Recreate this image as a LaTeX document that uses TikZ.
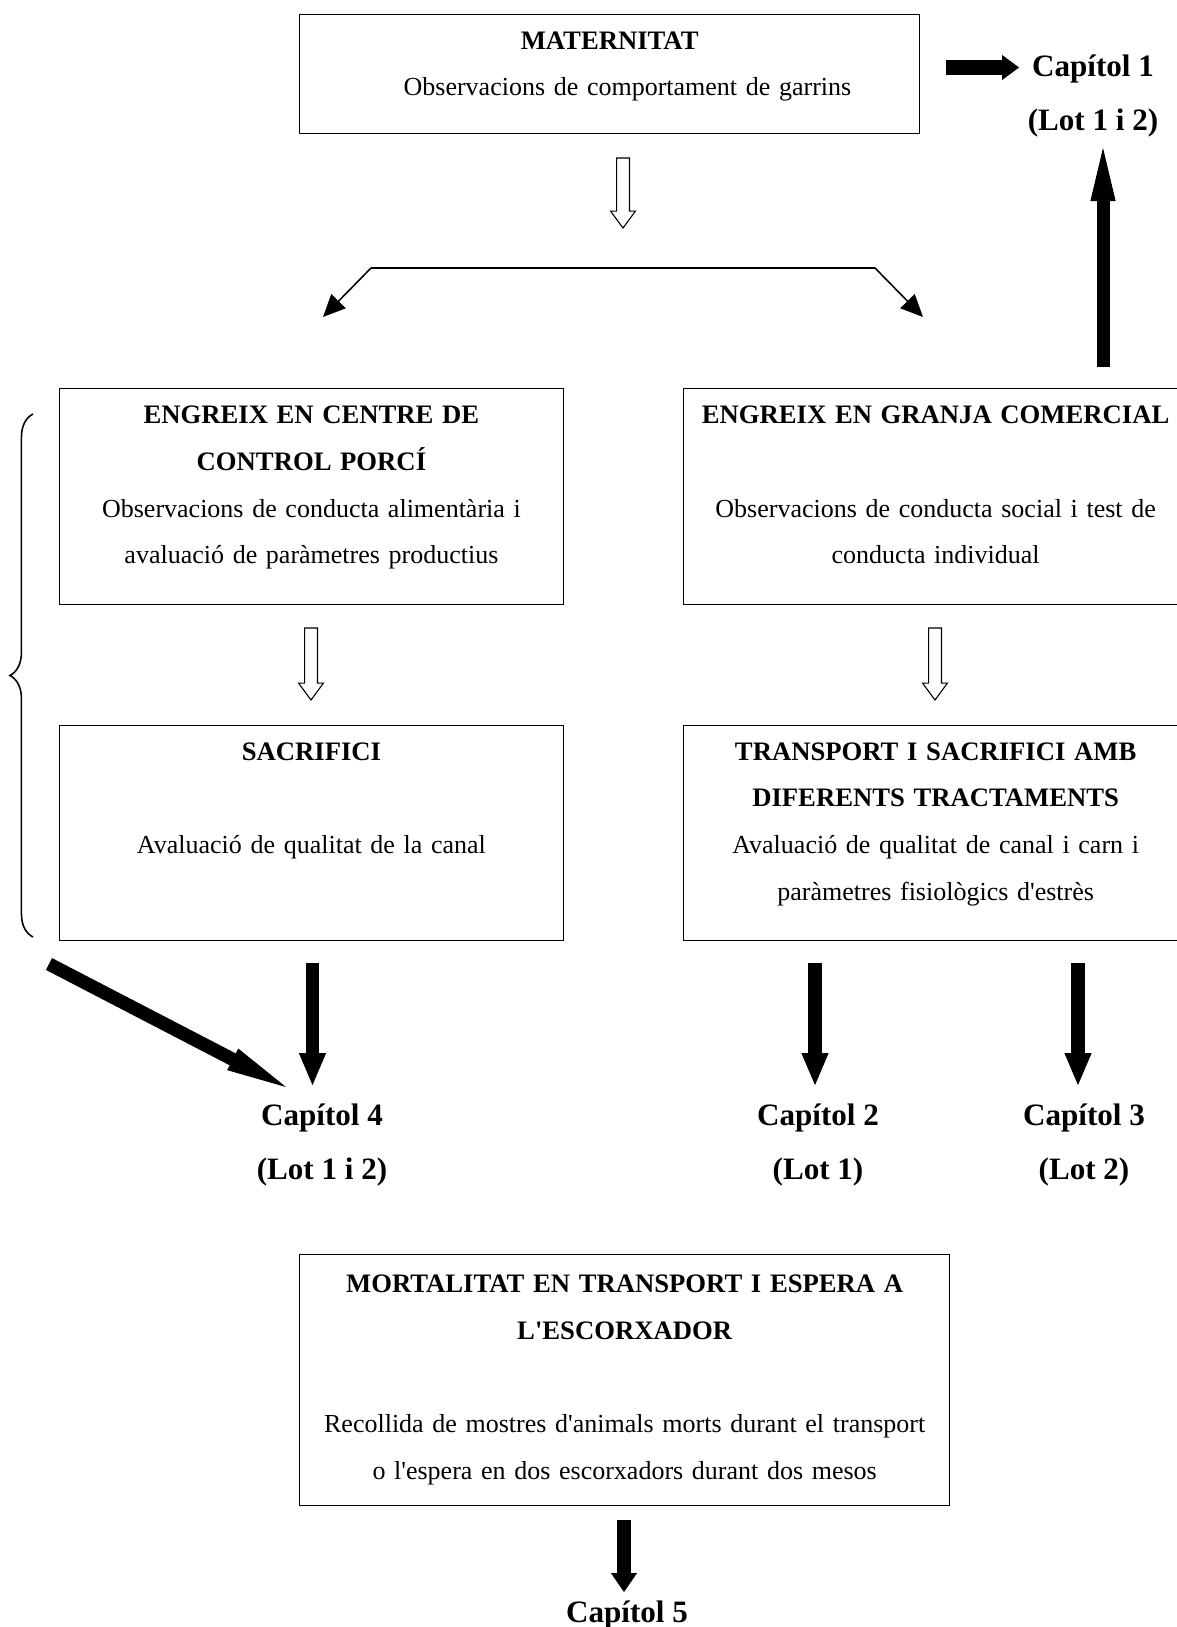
\documentclass[tikz,border=0pt]{standalone}
\usepackage{fontspec}
\setmainfont{Liberation Serif}
\usetikzlibrary{arrows.meta, calc, decorations.pathreplacing}

\newcommand{\ap}{\textquotesingle}
\newcommand{\hd}[1]{{\fontsize{12}{21}\selectfont\bfseries #1}}

\tikzset{
  box/.style={draw, line width=0.6pt, inner sep=0pt, anchor=north west, align=center,
    font=\fontsize{11.7}{21}\selectfont},
  chapter/.style={align=center, font=\fontsize{14}{24.3}\selectfont\bfseries},
  bigarrow/.style={line width=6.1pt, -{Triangle[length=14.4pt, width=12.2pt, line width=0.4pt]}},
  branch/.style={line width=0.7pt, -{Triangle[length=10pt, width=9pt]}},
  hollow/.style={draw, fill=white, line width=0.5pt,
    to path={let \p1=(\tikztostart), \p2=(\tikztotarget) in
      (\x1-2.9pt,\y1) -- (\x1+2.9pt,\y1) -- (\x1+2.9pt,\y2+7.6pt) -- (\x1+5.6pt,\y2+7.6pt)
      -- (\x1,\y2) -- (\x1-5.6pt,\y2+7.6pt) -- (\x1-2.9pt,\y2+7.6pt) -- cycle}}
}

\begin{document}
\begin{tikzpicture}[x=0.45pt, y=-0.45pt]
\useasboundingbox (0,0) rectangle (1176,1627);

% Boxes
\node[box, text width=279pt, text height=15.7pt, text depth=38.1pt] (mat) at (299,13.5)
  {\hd{MATERNITAT}\\\hspace*{16pt}Observacions de comportament de garrins};
\node[box, text width=226.6pt, text height=15.75pt, text depth=81.45pt] (ccp) at (59,388)
  {\hd{ENGREIX EN CENTRE DE\\CONTROL PORCÍ}\\Observacions de conducta alimentària i\\avaluació de paràmetres productius};
\node[box, text width=226.8pt, text height=15.75pt, text depth=81.45pt] (gc) at (683,388)
  {\hd{ENGREIX EN GRANJA COMERCIAL}\\[21pt]Observacions de conducta social i test de\\conducta individual};
\node[box, text width=226.6pt, text height=15.75pt, text depth=81.2pt] (sac) at (59,724.5)
  {\hd{SACRIFICI}\\[21pt]Avaluació de qualitat de la canal};
\node[box, text width=226.8pt, text height=15.75pt, text depth=81.2pt] (tsd) at (683,724.5)
  {\hd{TRANSPORT I SACRIFICI AMB\\DIFERENTS TRACTAMENTS}\\Avaluació de qualitat de canal i carn i\\paràmetres fisiològics d\ap estrès};
\node[box, text width=292.5pt, text height=17.1pt, text depth=95.85pt] (mort) at (299,1254)
  {\hd{MORTALITAT EN TRANSPORT I ESPERA A\\L\ap ESCORXADOR}\\[21pt]Recollida de mostres d\ap animals morts durant el transport\\o l\ap espera en dos escorxadors durant dos mesos};

% Chapters
\node[chapter] (cap1) at (1093,96) {Capítol 1\\(Lot 1 i 2)};
\node[chapter] (cap4) at (322,1145) {Capítol 4\\(Lot 1 i 2)};
\node[chapter] (cap2) at (818,1145) {Capítol 2\\(Lot 1)};
\node[chapter] (cap3) at (1084,1145) {Capítol 3\\(Lot 2)};
\node[chapter] (cap5) at (627,1615) {Capítol 5};

% Hollow arrows
\coordinate (h1a) at (623,158);  \coordinate (h1b) at (623,228);
\coordinate (h2a) at (311,628);  \coordinate (h2b) at (311,700);
\coordinate (h3a) at (935,628);  \coordinate (h3b) at (935,700);
\draw[hollow] (h1a) to (h1b);
\draw[hollow] (h2a) to (h2b);
\draw[hollow] (h3a) to (h3b);

% Fork
\coordinate (brl) at (371,268);
\coordinate (brr) at (875,268);
\coordinate (tol) at (323,317);
\coordinate (tor) at (923,317);
\draw[branch] (brl) -- (brr) -- (tor);
\draw[branch] (brl) -- (tol);

% Brace
\coordinate (bra) at (33,937);
\coordinate (brb) at (33,414);
\draw[line width=0.7pt, decorate, decoration={brace, amplitude=10.4pt}] (bra) -- (brb);

% Thick arrows
\coordinate (r1a) at (946,67.5);   \coordinate (r1b) at (1019,67.5);
\coordinate (u1a) at (1103,367);   \coordinate (u1b) at (1103,148);
\coordinate (d4a) at (312.5,963);  \coordinate (d4b) at (312.5,1085);
\coordinate (d2a) at (815,963);    \coordinate (d2b) at (815,1085);
\coordinate (d3a) at (1078,963);   \coordinate (d3b) at (1078,1085);
\coordinate (g4a) at (49,964);     \coordinate (g4b) at (286,1087);
\coordinate (d5a) at (624,1520);   \coordinate (d5b) at (624,1592);
\draw[bigarrow, line width=6.75pt, -{Triangle[length=7.65pt, width=11.25pt, line width=0.4pt]}] (r1a) -- (r1b);
\draw[bigarrow, line width=5.85pt, -{Triangle[length=23.85pt, width=11.25pt, line width=0.4pt]}] (u1a) -- (u1b);
\draw[bigarrow] (d4a) -- (d4b);
\draw[bigarrow] (d2a) -- (d2b);
\draw[bigarrow] (d3a) -- (d3b);
\draw[bigarrow, line width=6pt, -{Triangle[length=27pt, width=10.8pt, line width=0.4pt]}] (g4a) -- (g4b);
\draw[bigarrow, line width=6.3pt, -{Triangle[length=8.55pt, width=11.7pt, line width=0.4pt]}] (d5a) -- (d5b);
\end{tikzpicture}
\end{document}
